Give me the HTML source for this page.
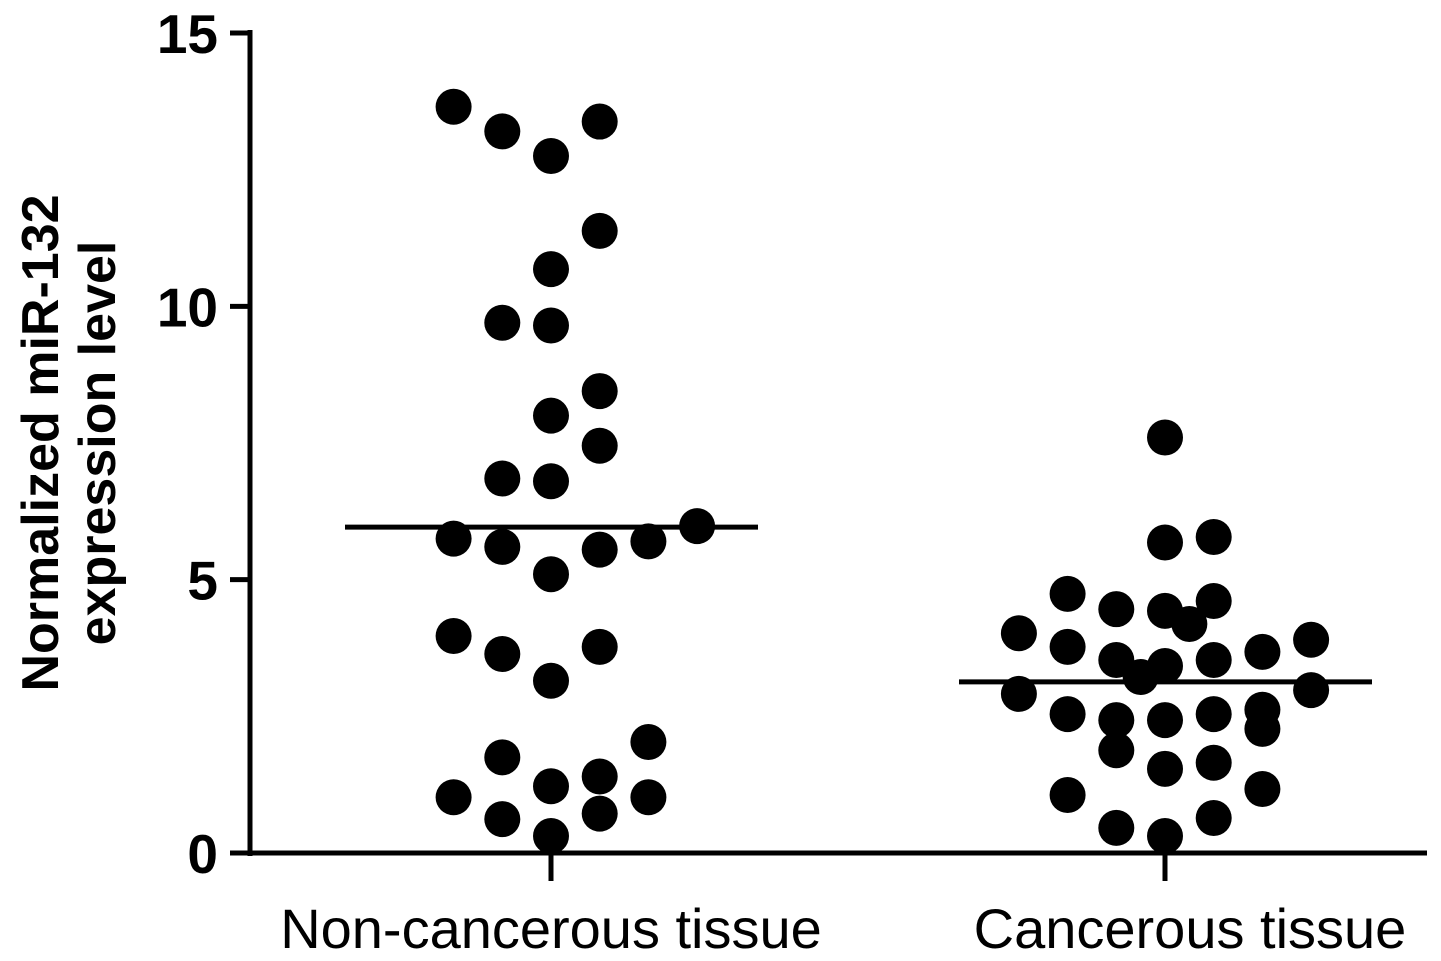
<!DOCTYPE html>
<html><head><meta charset="utf-8"><style>
html,body{margin:0;padding:0;background:#fff;}
svg{display:block;font-family:"Liberation Sans",Arial,sans-serif;}
</style></head><body>
<svg id="chart" width="1441" height="961" viewBox="0 0 1441 961">
<g id="axes"></g><g id="marks"></g>
</svg>
<script>
const categories = ["Non-cancerous tissue", "Cancerous tissue"];
const yTicks = [0, 5, 10, 15];
const medians = [5.96, 3.13];
const group0Values = [13.65,13.2,13.38,12.75,11.38,10.68,9.7,9.65,8.45,8.0,7.45,6.85,6.8,5.75,5.6,5.1,5.55,5.7,5.98,3.97,3.64,3.77,3.15,1.75,2.03,1.22,1.4,1.02,1.02,0.62,0.72,0.31];
const group0Slots  = [-2,-1,1,0,1,0,-1,0,1,0,1,-1,0,-2,-1,0,1,2,3,-2,-1,1,0,-1,2,0,1,-2,2,-1,1,0];
const group1Values = [7.6,5.68,5.78,4.74,4.46,4.43,4.61,4.19,4.02,3.77,3.53,3.42,3.53,3.68,3.9,3.22,2.91,2.54,2.43,2.43,2.54,2.62,2.27,2.98,1.88,1.54,1.65,1.06,1.17,0.46,0.31,0.64];
const group1Slots  = [0,0,1,-2,-1,0,1,0.5,-3,-2,-1,0,1,2,3,-0.5,-3,-2,-1,0,1,2,2,3,-1,0,1,-2,2,-1,0,1];
const NS="http://www.w3.org/2000/svg";
const yScale = v => 853 - v*(820/15);
const xCat = i => [551,1165][i];
const labelShift = [0, 25];
const slotW = 48.7;
function mk(tag, attrs, parent){const e=document.createElementNS(NS,tag);for(const k in attrs)e.setAttribute(k,attrs[k]);parent.appendChild(e);return e;}
const axes=document.getElementById('axes'), marks=document.getElementById('marks');
let e=mk('line',{x1:250,y1:30,x2:250,y2:856,stroke:'#000','stroke-width':5},axes);


e=mk('line',{x1:248,y1:853,x2:1427,y2:853,stroke:'#000','stroke-width':5},axes);


yTicks.forEach(t=>{
  const y=yScale(t);
  let l=mk('line',{x1:230,y1:y,x2:250,y2:y,stroke:'#000','stroke-width':5},axes);
  
  
  let tx=mk('text',{x:218,y:y+20,'text-anchor':'end','font-size':55,'font-weight':'bold'},axes);
  tx.textContent=t;
  
  
});
categories.forEach((c,i)=>{
  const x=xCat(i);
  let l=mk('line',{x1:x,y1:853,x2:x,y2:881,stroke:'#000','stroke-width':5},axes);
  
  
  let tx=mk('text',{x:x+labelShift[i],y:948,'text-anchor':'middle','font-size':56},axes);
  tx.textContent=c;
  
  
});
let t1=mk('text',{x:0,y:0,'text-anchor':'middle','font-size':52,'font-weight':'bold',transform:'translate(58,443) rotate(-90)'},axes);
t1.textContent='Normalized miR-132';


let t2=mk('text',{x:0,y:0,'text-anchor':'middle','font-size':52,'font-weight':'bold',transform:'translate(115,443) rotate(-90)'},axes);
t2.textContent='expression level';


[[group0Values,group0Slots],[group1Values,group1Slots]].forEach(([vals,slots],g)=>{
  vals.forEach((v,i)=>{
    const c=mk('circle',{cx:xCat(g)+slots[i]*slotW,cy:yScale(v),r:18,fill:'#000'},marks);
    
    
  });
  const y=yScale(medians[g]);
  const m=mk('line',{x1:xCat(g)-206,y1:y,x2:xCat(g)+207,y2:y,stroke:'#000','stroke-width':5},marks);
  
  
});
</script>
</body></html>
